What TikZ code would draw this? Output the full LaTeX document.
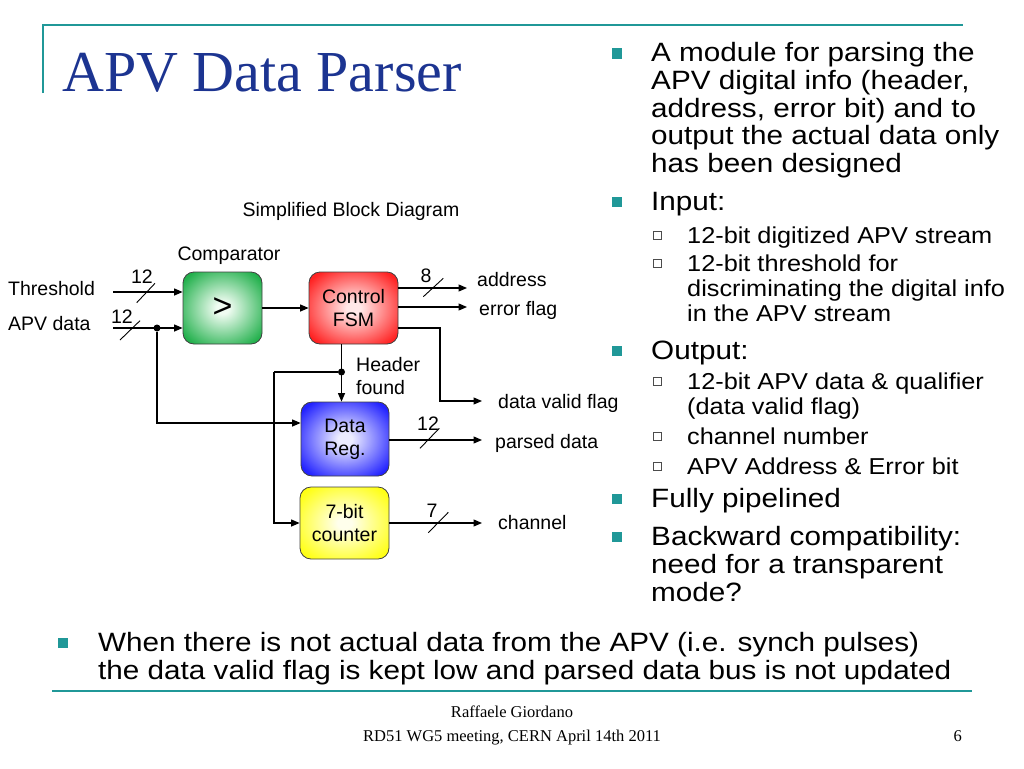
\documentclass[tikz,border=0pt]{standalone}
\usepackage{fontspec}
\usetikzlibrary{arrows.meta,shadows}
\newfontfamily\arialf{Liberation Sans}
\newfontfamily\arialw[FakeStretch=1.12]{Liberation Sans}
\newfontfamily\arials[FakeStretch=1.10]{Liberation Sans}
\newfontfamily\timesf{Liberation Serif}
\definecolor{tealc}{RGB}{32,152,152}
\definecolor{titleblue}{RGB}{28,52,145}
\definecolor{gEdge}{RGB}{34,176,76}
\definecolor{gIn}{RGB}{240,252,242}
\definecolor{rEdge}{RGB}{255,34,34}
\definecolor{rIn}{RGB}{255,232,232}
\definecolor{bEdge}{RGB}{34,34,255}
\definecolor{bIn}{RGB}{236,236,255}
\definecolor{yEdge}{RGB}{255,255,20}
\definecolor{yIn}{RGB}{255,255,236}
\newcommand\mkglow[3]{\pgfdeclareradialshading{#1}{\pgfpoint{0bp}{0bp}}{color(0bp)=(#2); color(4bp)=(#2); color(31bp)=(#3); color(50bp)=(#3)}}
\mkglow{gglow}{gIn}{gEdge}
\mkglow{rglow}{rIn}{rEdge}
\mkglow{bglow}{bIn}{bEdge}
\mkglow{yglow}{yIn}{yEdge}
\begin{document}
\begin{tikzpicture}[x=1pt,y=-1pt,
  lbl/.style={font=\arialf\fontsize{19.5}{23}\selectfont, inner sep=0pt},
  blk/.style={draw=black!75, line width=0.8pt, rounded corners=11pt, align=center,
    font=\arialf\fontsize{19.5}{23}\selectfont, inner sep=0pt},
  wire/.style={line width=1.2pt},
  arr/.style={wire, -{Triangle[length=8.5pt,width=7pt]}},
  slash/.style={line width=0.9pt},
  dot/.style={circle, fill=black, inner sep=0pt, minimum size=7pt},
  mainln/.style={font=\arialw\fontsize{26.5}{28}\selectfont, inner sep=0pt, anchor=base west},
  subln/.style={font=\arials\fontsize{23}{26}\selectfont, inner sep=0pt, anchor=base west},
  bsq/.style={fill=tealc, inner sep=0pt, minimum size=10pt},
  ssq/.style={draw=black!70, fill=white, line width=0.9pt, inner sep=0pt, minimum size=8pt,
    drop shadow={shadow xshift=1.2pt, shadow yshift=-1.2pt, fill=black!40, opacity=1}},
  foot/.style={font=\timesf\fontsize{16.5}{18}\selectfont, inner sep=0pt, anchor=base}
]
\useasboundingbox (0,0) rectangle (1024,768);
\fill[white] (0,0) rectangle (1024,768);

% frame lines
\draw[tealc, line width=2pt] (43,93) -- (43,25) -- (963,25);
\draw[tealc, line width=2.2pt] (52,691) -- (972,691);

% title
\node[inner sep=0pt, anchor=base west, text=titleblue, font=\timesf\fontsize{58}{60}\selectfont] (title) at (62,91) {APV Data Parser};

% ---------------- diagram ----------------
\node[lbl, anchor=base] (sbd) at (351,216) {Simplified Block Diagram};
\node[lbl, anchor=base] (cmplbl) at (229,260) {Comparator};

\node[blk, minimum width=79pt, minimum height=72pt, shading=gglow,
  font=\arialf\fontsize{34}{36}\selectfont] (comp) at (222.5,308) {>};
\node[blk, minimum width=89pt, minimum height=72pt, shading=rglow] (fsm) at (353.5,308) {Control\\FSM};
\node[blk, minimum width=88pt, minimum height=74pt, shading=bglow] (dreg) at (345,439) {Data\\Reg.};
\node[blk, minimum width=89pt, minimum height=72pt, shading=yglow] (cnt) at (344.5,523) {7-bit\\counter};

% inputs
\node[lbl, anchor=base west] (thl) at (8,295) {Threshold};
\node[lbl, anchor=base west] (apvl) at (8,330) {APV data};
\coordinate (thS) at (113,292);
\coordinate (apvS) at (113,328);
\draw[arr] (thS) -- (comp.west |- thS);
\draw[arr] (apvS) -- (comp.west |- apvS);
\draw[slash] (136.7,302.7) -- (155,283.3);
\node[lbl, anchor=base] (n12a) at (142,283) {12};
\draw[slash] (120,340) -- (140,320.7);
\node[lbl, anchor=base] (n12b) at (122,323) {12};

\node[dot] (aj) at (157,328) {};
\draw[arr] (aj) |- ([yshift=16pt]dreg.west);

% comparator -> FSM
\draw[arr] (comp.east) -- (fsm.west);

% FSM outputs
\coordinate (addrE) at (467,288);
\coordinate (errE) at (467,307);
\coordinate (dvE) at (482,401);
\draw[arr] (fsm.east |- addrE) -- (addrE);
\draw[slash] (423.3,296.7) -- (443.3,278.3);
\node[lbl, anchor=base] (n8) at (426,282) {8};
\node[lbl, anchor=base west] (addrl) at (477,286) {address};
\draw[arr] (fsm.east |- errE) -- (errE);
\node[lbl, anchor=base west] (errl) at (479,315) {error flag};
\draw[arr] (fsm.east |- 0,328) -| (440,401) -- (dvE);
\node[lbl, anchor=base west] (dvl) at (498,408) {data valid flag};

% header found
\node[dot] (hj) at (341.5,372) {};
\draw[arr] ([xshift=-12pt]fsm.south) -- ([xshift=-12pt]fsm.south |- dreg.north);
\node[lbl, anchor=base west] (hdl) at (356,371) {Header};
\node[lbl, anchor=base west] (fdl) at (356,394) {found};
\coordinate (hc) at (274,372);
\draw[wire] (hj) -- (hc);
\draw[arr] (hc) |- (cnt.west);

% data reg output
\coordinate (pdE) at (482,440);
\draw[arr] (dreg.east |- pdE) -- (pdE);
\draw[slash] (420,448.3) -- (439.3,428.3);
\node[lbl, anchor=base] (n12c) at (428,430) {12};
\node[lbl, anchor=base west] (pdl) at (495,448) {parsed data};

% counter output
\coordinate (chE) at (482,523);
\draw[arr] (cnt.east) -- (chE);
\draw[slash] (428.3,532.7) -- (448.3,512.3);
\node[lbl, anchor=base] (n7) at (432,517) {7};
\node[lbl, anchor=base west] (chl) at (498,529) {channel};

% ---------------- bullets ----------------
\node[bsq] (b1) at (617,53.5) {};
\node[mainln] (t1a) at (651,62) {A module for parsing the};
\node[mainln] (t1b) at (651,89.5) {APV digital info (header,};
\node[mainln] (t1c) at (651,117) {address, error bit) and to};
\node[mainln] (t1d) at (651,144.5) {output the actual data only};
\node[mainln] (t1e) at (651,172) {has been designed};

\node[bsq] (b2) at (617,201.5) {};
\node[mainln] (t2) at (651,210) {Input:};
\node[ssq] (s21) at (657,235) {};
\node[subln] (t21) at (687,243) {12-bit digitized APV stream};
\node[ssq] (s22) at (657,263) {};
\node[subln] (t22a) at (687,271) {12-bit threshold for};
\node[subln] (t22b) at (687,296) {discriminating the digital info};
\node[subln] (t22c) at (687,321) {in the APV stream};

\node[bsq] (b3) at (617,350.5) {};
\node[mainln] (t3) at (651,359) {Output:};
\node[ssq] (s31) at (657,381) {};
\node[subln] (t31a) at (687,389) {12-bit APV data \& qualifier};
\node[subln] (t31b) at (687,414) {(data valid flag)};
\node[ssq] (s32) at (657,436) {};
\node[subln] (t32) at (687,444) {channel number};
\node[ssq] (s33) at (657,466) {};
\node[subln] (t33) at (687,474) {APV Address \& Error bit};

\node[bsq] (b4) at (617,498.5) {};
\node[mainln] (t4) at (651,507) {Fully pipelined};
\node[bsq] (b5) at (617,536.5) {};
\node[mainln] (t5a) at (651,545) {Backward compatibility:};
\node[mainln] (t5b) at (651,573) {need for a transparent};
\node[mainln] (t5c) at (651,601) {mode?};

\node[bsq] (b6) at (63,643) {};
\node[mainln] (t6a) at (98,651) {When there is not actual data from the APV (i.e. synch pulses)};
\node[mainln] (t6b) at (98,679) {the data valid flag is kept low and parsed data bus is not updated};

% footer
\node[foot] (f1) at (512,717) {Raffaele Giordano};
\node[foot] (f2) at (512,741) {RD51 WG5 meeting, CERN April 14th 2011};
\node[foot, anchor=base east] (f3) at (962,741) {6};
\end{tikzpicture}
\end{document}
